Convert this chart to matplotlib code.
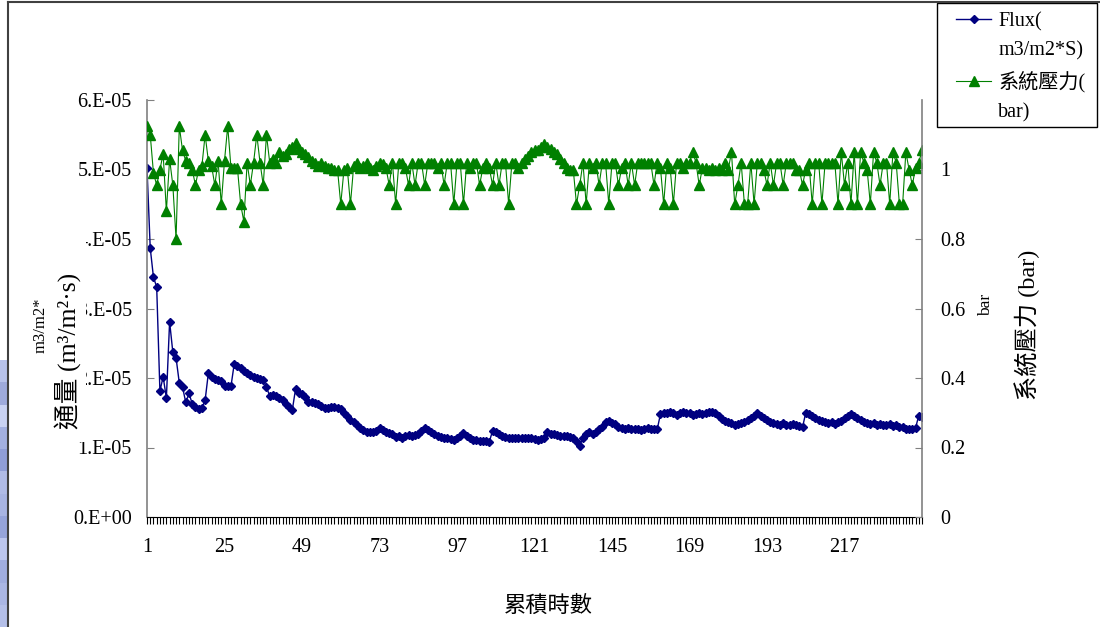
import numpy as np
import matplotlib.pyplot as plt
from matplotlib.patches import Rectangle
from matplotlib.lines import Line2D

plt.rcParams['font.family'] = ['Liberation Serif', 'Noto Sans CJK TC']

W, H = 1100, 627


def fx(px):
    return px / W


def fy(py):
    return 1 - py / H


# cumulative hours 1..241
hours = np.arange(1, 242)

# flux, in units of 1e-5 m3/m2*s
flux_e5 = [
    5.02, 3.87, 3.45, 3.31, 1.81, 2.02, 1.71, 2.81, 2.37, 2.29,
    1.93, 1.87, 1.65, 1.78, 1.63, 1.58, 1.55, 1.57, 1.68, 2.07,
    2.02, 1.99, 1.97, 1.96, 1.88, 1.89, 1.88, 2.20, 2.17, 2.14,
    2.10, 2.07, 2.05, 2.02, 2.00, 1.99, 1.97, 1.87, 1.74, 1.76,
    1.74, 1.71, 1.68, 1.62, 1.58, 1.54, 1.84, 1.78, 1.77, 1.72,
    1.66, 1.65, 1.64, 1.62, 1.60, 1.57, 1.57, 1.58, 1.58, 1.57,
    1.55, 1.50, 1.45, 1.40, 1.36, 1.32, 1.28, 1.25, 1.22, 1.22,
    1.22, 1.24, 1.28, 1.25, 1.22, 1.21, 1.19, 1.15, 1.16, 1.14,
    1.16, 1.18, 1.17, 1.18, 1.20, 1.24, 1.28, 1.25, 1.22, 1.19,
    1.16, 1.15, 1.14, 1.13, 1.12, 1.11, 1.13, 1.16, 1.21, 1.17,
    1.13, 1.11, 1.11, 1.10, 1.10, 1.09, 1.08, 1.24, 1.22, 1.19,
    1.17, 1.15, 1.14, 1.14, 1.13, 1.14, 1.13, 1.13, 1.14, 1.13,
    1.12, 1.11, 1.12, 1.13, 1.22, 1.20, 1.19, 1.18, 1.17, 1.16,
    1.16, 1.15, 1.14, 1.10, 1.02, 1.14, 1.20, 1.23, 1.20, 1.22,
    1.26, 1.30, 1.36, 1.38, 1.35, 1.34, 1.30, 1.28, 1.27, 1.28,
    1.27, 1.26, 1.27, 1.25, 1.26, 1.28, 1.26, 1.27, 1.26, 1.48,
    1.50, 1.50, 1.51, 1.49, 1.47, 1.49, 1.51, 1.50, 1.49, 1.47,
    1.48, 1.49, 1.48, 1.50, 1.51, 1.51, 1.49, 1.45, 1.41, 1.38,
    1.36, 1.35, 1.33, 1.34, 1.35, 1.37, 1.39, 1.43, 1.46, 1.49,
    1.45, 1.42, 1.40, 1.37, 1.35, 1.34, 1.33, 1.35, 1.33, 1.32,
    1.34, 1.32, 1.31, 1.29, 1.50, 1.48, 1.45, 1.42, 1.40, 1.38,
    1.36, 1.35, 1.36, 1.34, 1.36, 1.38, 1.42, 1.46, 1.48, 1.45,
    1.42, 1.39, 1.37, 1.35, 1.34, 1.35, 1.33, 1.34, 1.32, 1.33,
    1.34, 1.31, 1.32, 1.30, 1.29, 1.27, 1.26, 1.27, 1.28, 1.46,
    1.44,
]

# system pressure, bar
pressure = [
    1.125, 1.10, 0.99, 0.955, 1.00, 1.045, 0.88, 1.03, 0.955, 0.80,
    1.125, 1.055, 1.025, 1.02, 1.00, 0.955, 1.00, 1.01, 1.10, 1.025,
    1.01, 0.955, 1.025, 0.90, 1.025, 1.125, 1.005, 1.005, 1.005, 0.90,
    0.85, 1.02, 0.955, 1.02, 1.10, 1.02, 0.955, 1.10, 1.02, 1.03,
    1.02, 1.05, 1.04, 1.045, 1.06, 1.065, 1.075, 1.06, 1.05, 1.045,
    1.035, 1.025, 1.02, 1.01, 1.02, 1.01, 1.005, 1.005, 1.00, 1.00,
    0.90, 1.00, 1.005, 0.90, 1.01, 1.02, 1.005, 1.01, 1.02, 1.005,
    1.00, 1.01, 1.02, 1.015, 1.005, 0.955, 1.02, 0.90, 1.02, 1.02,
    1.005, 0.955, 1.02, 0.955, 1.02, 1.02, 0.955, 1.02, 1.02, 1.02,
    1.005, 1.02, 0.955, 1.02, 1.02, 0.90, 1.02, 1.02, 0.90, 1.02,
    1.005, 1.02, 1.02, 0.955, 1.005, 1.02, 1.005, 0.955, 1.02, 0.955,
    1.02, 1.02, 0.90, 1.02, 1.02, 1.005, 1.02, 1.03, 1.04, 1.05,
    1.055, 1.055, 1.065, 1.072, 1.065, 1.06, 1.05, 1.045, 1.03, 1.02,
    1.005, 1.00, 1.00, 0.90, 0.955, 1.02, 0.90, 1.02, 1.005, 1.02,
    0.955, 1.02, 1.02, 0.90, 1.02, 1.02, 0.955, 1.005, 1.02, 0.955,
    1.02, 0.955, 1.02, 1.02, 1.02, 1.02, 1.02, 0.955, 1.02, 1.005,
    0.90, 1.02, 1.005, 0.90, 1.02, 1.02, 1.005, 1.02, 1.02, 1.05,
    1.02, 0.955, 1.005, 1.005, 1.00, 1.005, 1.00, 1.005, 1.00, 1.02,
    1.00, 1.05, 0.90, 0.955, 1.02, 0.90, 0.90, 1.02, 0.90, 1.02,
    1.02, 1.00, 0.955, 1.02, 0.955, 1.02, 1.02, 0.955, 1.02, 1.02,
    1.02, 1.00, 1.00, 0.955, 1.00, 1.02, 0.90, 1.02, 1.02, 0.90,
    1.02, 1.02, 1.02, 1.02, 0.90, 1.05, 0.955, 1.02, 0.90, 1.05,
    0.90, 1.05, 1.02, 1.00, 0.90, 1.05, 1.02, 0.955, 1.02, 1.02,
    0.90, 1.05, 1.02, 0.90, 0.90, 1.05, 1.00, 0.955, 1.005, 1.02,
    1.055,
]

x_labels = [1, 25, 49, 73, 97, 121, 145, 169, 193, 217]
flux_ticks = [0, 1e-5, 2e-5, 3e-5, 4e-5, 5e-5, 6e-5]
flux_tick_labels = ['0.E+00', '1.E-05', '2.E-05', '3.E-05', '4.E-05', '5.E-05', '6.E-05']
press_ticks = [0, 0.2, 0.4, 0.6, 0.8, 1.0]
press_tick_labels = ['0', '0.2', '0.4', '0.6', '0.8', '1']

flux = np.array(flux_e5) * 1e-5

fig = plt.figure(figsize=(W / 100, H / 100), dpi=100)
ax = fig.add_axes([fx(147), fy(517), fx(922) - fx(147), fy(100) - fy(517)])
ax2 = ax.twinx()

l1, = ax.plot(hours, flux, color='#000080', lw=1.0, marker='D', ms=4.5,
              mec='#000080', mfc='#000080', label='Flux(')
l2, = ax2.plot(hours, pressure, color='#008000', lw=0.8, marker='^', ms=6.5,
               mec='#008000', mfc='#008000', label='系統壓力(')

ax.set_xlim(1, 241)
ax.set_ylim(0, 6e-5)
ax2.set_ylim(0, 1.2)

ax.set_xticks(x_labels)
ax.set_xticklabels([str(v) for v in x_labels])
ax.set_xticks(hours, minor=True)
ax.tick_params(axis='x', which='both', direction='out', length=5, width=0.8,
               colors='black', labelsize=14.5, pad=10)

ax.set_yticks(flux_ticks)
ax.set_yticklabels(flux_tick_labels)
ax.tick_params(axis='y', direction='in', length=5, color='#808080',
               labelsize=14.5, pad=11)

ax2.set_yticks(press_ticks)
ax2.set_yticklabels(press_tick_labels)
ax2.tick_params(axis='y', direction='in', length=5, color='#808080',
                labelsize=14.5, pad=13)

for a in (ax, ax2):
    a.spines['top'].set_visible(False)
ax.spines['left'].set_color('#808080')
ax.spines['right'].set_visible(False)
ax.spines['bottom'].set_color('black')
ax2.spines['left'].set_visible(False)
ax2.spines['bottom'].set_visible(False)
ax2.spines['right'].set_color('#808080')
ax2.spines['right'].set_linewidth(1.2)
ax.spines['left'].set_linewidth(1.2)

# outer chart border (top and left edges) and the strip beside it
fig.add_artist(Line2D([fx(8), 1], [fy(2), fy(2)], color='#404040', lw=1.5))
fig.add_artist(Line2D([fx(8), fx(8)], [fy(2), 0], color='#404040', lw=1.5))
strip_colors = ['#b7c2ea', '#9eaadb', '#c9d2f2', '#a3b0e0', '#8f9dd6',
                '#b0bbe6', '#a8b4e2', '#96a4da', '#bcc6ee', '#a0addf',
                '#aab6e4', '#b4bfe8']
strip_top = 360
step = (H - strip_top) / len(strip_colors)
for k, c in enumerate(strip_colors):
    fig.add_artist(Rectangle((0, fy(strip_top + (k + 1) * step)), fx(7),
                             step / H, transform=fig.transFigure,
                             facecolor=c, edgecolor='none'))

# left axis title over an older, partly hidden one
fig.text(fx(41), fy(325), 'm3/m2*', rotation=90, ha='center', va='center',
         fontsize=12, color='black')
fig.add_artist(Rectangle((fx(41), fy(442)), fx(86) - fx(41), (442 - 226) / H,
                         transform=fig.transFigure, facecolor='white',
                         edgecolor='none', zorder=2.5))
fig.text(fx(68), fy(351), '通量 (m³/m²·s)', rotation=90, ha='center',
         va='center', fontsize=18.5, zorder=3)

# right axis title
fig.text(fx(986), fy(305), 'bar', rotation=90, ha='center', va='center',
         fontsize=12.5)
fig.text(fx(1027), fy(325), '系統壓力 (bar)', rotation=90, ha='center',
         va='center', fontsize=17.5)

fig.text(fx(548), fy(606), '累積時數', ha='center', va='center', fontsize=16)

# legend with its own frame
fig.add_artist(Rectangle((fx(937), fy(127)), fx(1097) - fx(937), (127 - 3) / H,
                         transform=fig.transFigure, facecolor='white',
                         edgecolor='black', lw=1.0))
blank = Line2D([], [], linestyle='none')
fig.legend([l1, blank, l2, blank], ['Flux(', 'm3/m2*S)', '系統壓力(', 'bar)'],
           loc='upper left', bbox_to_anchor=(fx(956), fy(12)), frameon=False,
           fontsize=14.5, borderpad=0, borderaxespad=0, handlelength=1.75,
           handletextpad=0.35, labelspacing=0.52, numpoints=1)

fig.savefig('out.png', dpi=100)
